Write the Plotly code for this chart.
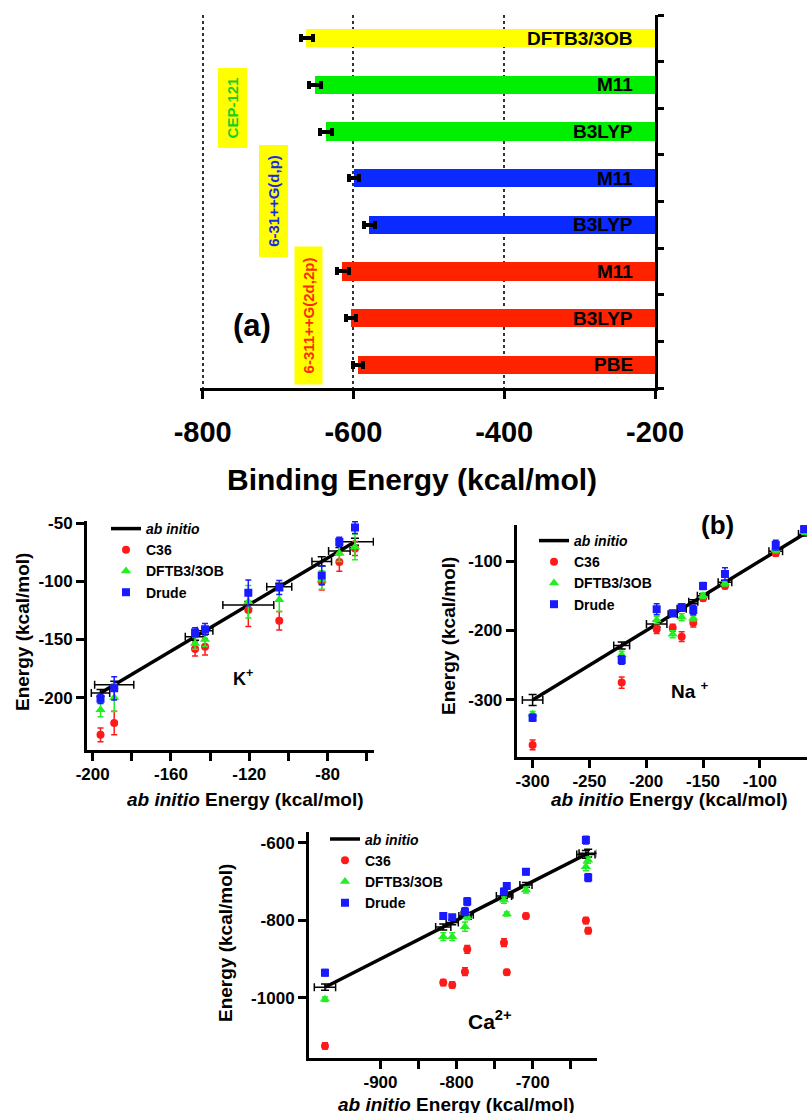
import plotly.graph_objects as go

W, H = 807, 1113
FONT = "Liberation Sans, Arial, sans-serif"

# ---------------- Panel (a) data ----------------
bar_methods = ["DFTB3/3OB", "M11", "B3LYP", "M11", "B3LYP", "M11", "B3LYP", "PBE"]
bar_values = [-662, -651, -636, -599, -579, -614, -603, -594]
bar_errors = [8, 8, 8, 7, 7, 8, 7, 7]
bar_colors = ["#ffff00", "#00ee00", "#00ee00", "#0a2aff", "#0a2aff",
              "#ff2200", "#ff2200", "#ff2200"]
a_tickvals = [-800, -600, -400, -200]
basis_labels = ["CEP-121", "6-31++G(d,p)", "6-311++G(2d,2p)"]
basis_colors = ["#22cc22", "#1a2ae8", "#ff2a00"]

# ---------------- K+ data ----------------
k_ab = [-196, -189, -147.7, -142.6, -120.5, -104.7, -83, -74, -66]
k_abx_err = [4.7, 10, 5, 4, 13, 6.4, 5, 5.5, 9.4]
k_aby_err = [3, 3, 3, 3, 3, 3, 4, 3, 3]
k_c36 = [-232, -221.8, -158.2, -156.3, -124.8, -134, -100.5, -83.4, -71.9]
k_c36_err = [6, 10, 6, 7, 14, 8, 7, 8, 6]
k_dftb = [-210.5, -200, -153.4, -150, -117.7, -116, -99, -76, -70.5]
k_dftb_err = [6, 12, 5, 6, 14, 10, 8, 7, 11]
k_drude = [-201, -192, -144, -141.3, -110, -105.3, -95, -66.2, -53.9]
k_drude_err = [4, 10, 4, 5, 11, 6, 8, 4, 5]
k_xticks = [-200, -180, -160, -140, -120, -100, -80, -60]
k_xtext = ["-200", "", "-160", "", "-120", "", "-80", ""]
k_yticks = [-200, -150, -100, -50]

# ---------------- Na+ data ----------------
n_ab = [-300, -221.6, -190.8, -176.7, -168.8, -158.6, -150, -130.7, -86, -61]
n_abx_err = [9, 7, 9, 4, 4, 4, 5, 6, 6, 5]
n_aby_err = [8, 5, 4, 3, 3, 3, 3, 3, 3, 3]
n_c36 = [-364.7, -275, -198.3, -196, -208.9, -188.8, -153.7, -136, -89, -52]
n_c36_err = [7, 8, 6, 5, 7, 6, 4, 4, 4, 4]
n_dftb = [-320.6, -235, -185, -205.5, -181, -182.4, -150, -132, -84, -58]
n_dftb_err = [4, 5, 5, 5, 5, 4, 4, 4, 4, 4]
n_drude = [-325.5, -242.4, -169.5, -175.2, -166.6, -170.5, -136, -118.7, -77, -54.4]
n_drude_err = [5, 6, 8, 4, 5, 7, 5, 9, 7, 4]
n_xticks = [-300, -250, -200, -150, -100]
n_yticks = [-300, -200, -100]

# ---------------- Ca2+ data ----------------
c_ab = [-973, -817.5, -805.7, -789, -786, -737.7, -734, -708.8, -630, -627]
c_abx_err = [14, 10, 8, 8, 8, 10, 8, 8, 12, 12]
c_aby_err = [8, 8, 6, 6, 6, 6, 6, 6, 10, 10]
c_c36 = [-1124.6, -961, -967, -933, -875, -858, -934.5, -789, -801, -827]
c_c36_err = [8, 8, 8, 10, 10, 10, 7, 7, 8, 8]
c_dftb = [-1004, -842.5, -842.5, -816.8, -791, -748, -784, -722, -662, -645]
c_dftb_err = [6, 10, 10, 12, 8, 8, 5, 8, 10, 8]
c_drude = [-935.5, -789, -792.6, -778, -752, -726, -711.7, -674.8, -593, -690]
c_drude_err = [8, 8, 5, 10, 10, 8, 8, 8, 10, 10]
c_xticks = [-900, -850, -800, -750, -700, -650]
c_xtext = ["-900", "", "-800", "", "-700", ""]
c_yticks = [-1000, -800, -600]


def px(x):
    return x / W


def py(y):
    return 1 - y / H


def labels(vals):
    return [str(v) for v in vals]


fig = go.Figure()

# ---------------- Panel (a) ----------------
fig.add_trace(go.Bar(
    orientation="h", x=bar_values, y=list(range(len(bar_values))),
    width=0.39, marker=dict(color=bar_colors, line=dict(width=0)),
    error_x=dict(type="data", array=bar_errors, color="black", thickness=4, width=4),
    showlegend=False, xaxis="x", yaxis="y",
))

annotations = []
for i, m in enumerate(bar_methods):
    annotations.append(dict(
        x=-200, y=i, xref="x", yref="y", text=m, showarrow=False,
        xanchor="right", yanchor="middle", xshift=-20,
        font=dict(family=FONT, size=19, color="black", weight="bold"),
    ))


def note(x, y, text, size, angle=0, **kw):
    d = dict(x=px(x), y=py(y), xref="paper", yref="paper", text=text,
             showarrow=False, xanchor="center", yanchor="middle", textangle=angle,
             font=dict(family=FONT, size=size, color=kw.pop("color", "black"),
                       weight="bold"))
    d.update(kw)
    annotations.append(d)


# basis-set labels (rotated, yellow boxes)
boxes = [(233, 108.5, 79, 28), (273, 201.5, 111, 28), (308.5, 315.5, 137, 27)]
for (cx, cy, bw, bh), lab, col in zip(boxes, basis_labels, basis_colors):
    note(cx, cy, lab, 15, angle=-90, color=col, bgcolor="#ffff00",
         width=bw, height=bh, borderpad=0, align="center", valign="middle")

note(252, 325, "(a)", 31)
note(412, 480, "Binding Energy (kcal/mol)", 30)


# ---------------- Lower panels ----------------
def add_panel(xa, ya, leg, ab, abx_err, aby_err, c36, c36_err, dftb, dftb_err, drude, drude_err):
    fig.add_trace(go.Scatter(
        x=ab, y=ab, mode="lines", name="<i>ab initio</i>",
        line=dict(color="black", width=3.5),
        error_x=dict(type="data", array=abx_err, color="black", thickness=1.5, width=4),
        error_y=dict(type="data", array=aby_err, color="black", thickness=1.5, width=4),
        xaxis=xa, yaxis=ya, legend=leg,
    ))
    for name, vals, errs, color, sym, size in [
        ("C36", c36, c36_err, "#ff1a1a", "circle", 8),
        ("DFTB3/3OB", dftb, dftb_err, "#22ee22", "triangle-up", 9),
        ("Drude", drude, drude_err, "#1a1aff", "square", 8),
    ]:
        fig.add_trace(go.Scatter(
            x=ab, y=vals, mode="markers", name=name,
            marker=dict(color=color, symbol=sym, size=size, line=dict(width=0)),
            error_y=dict(type="data", array=errs, color=color, thickness=1.5, width=3),
            xaxis=xa, yaxis=ya, legend=leg,
        ))


add_panel("x2", "y2", "legend", k_ab, k_abx_err, k_aby_err, k_c36, k_c36_err,
          k_dftb, k_dftb_err, k_drude, k_drude_err)
add_panel("x3", "y3", "legend2", n_ab, n_abx_err, n_aby_err, n_c36, n_c36_err,
          n_dftb, n_dftb_err, n_drude, n_drude_err)
add_panel("x4", "y4", "legend3", c_ab, c_abx_err, c_aby_err, c_c36, c_c36_err,
          c_dftb, c_dftb_err, c_drude, c_drude_err)

tickfont = dict(family=FONT, size=17, color="black", weight="bold")
axis_common = dict(showline=True, linewidth=3, linecolor="black", ticks="outside",
                   ticklen=8, tickwidth=3, tickcolor="black", showgrid=False,
                   zeroline=False, tickfont=tickfont, automargin=False)

for (xc, yc) in [(245, 799), (669, 799), (456, 1104)]:
    note(xc, yc, "<i>ab initio</i> Energy (kcal/mol)", 19)
for (xc, yc) in [(22, 632), (448, 636), (225, 943)]:
    note(xc, yc, "Energy (kcal/mol)", 19, angle=-90)

note(243, 677, "K<sup>+</sup>", 18)
note(690, 690, "Na <sup>+</sup>", 19)
note(490, 1020, "Ca<sup>2+</sup>", 21)
note(717, 525, "(b)", 26)

legend_common = dict(xanchor="left", yanchor="top", bgcolor="rgba(0,0,0,0)",
                     font=dict(family=FONT, size=14, color="black", weight="bold"),
                     tracegroupgap=0, itemwidth=30, borderwidth=0)

fig.update_layout(
    width=W, height=H, margin=dict(l=0, r=0, t=0, b=0, pad=0, autoexpand=False),
    paper_bgcolor="white", plot_bgcolor="rgba(0,0,0,0)",
    bargap=0, showlegend=True,
    xaxis=dict(domain=[px(200.4), px(655)], range=[-803, -200], anchor="y",
               tickvals=a_tickvals, ticktext=labels(a_tickvals),
               showline=True, linewidth=3, linecolor="black",
               ticks="outside", ticklen=8, tickwidth=3, tickcolor="black",
               showgrid=True, griddash="dot", gridcolor="#333", gridwidth=1.5,
               zeroline=False, ticklabelstandoff=8, automargin=False,
               tickfont=dict(family=FONT, size=29, color="black", weight="bold")),
    yaxis=dict(domain=[py(388), py(15)], range=[7.5, -0.5], anchor="x", side="right",
               tickvals=[i - 0.5 for i in range(9)], showticklabels=False,
               showline=True, linewidth=3, linecolor="black", ticks="outside",
               ticklen=6, tickwidth=3, tickcolor="black", showgrid=False,
               zeroline=False, automargin=False),
    xaxis2=dict(domain=[px(87), px(374)], range=[-202.9, -56.3], anchor="y2",
                tickvals=k_xticks, ticktext=k_xtext, ticklabelstandoff=-1, **axis_common),
    yaxis2=dict(domain=[py(750), py(520.7)], range=[-245, -48], anchor="x2",
                tickvals=k_yticks, ticktext=labels(k_yticks), **axis_common),
    xaxis3=dict(domain=[px(516.7), 1.0], range=[-314, -58.5], anchor="y3",
                tickvals=n_xticks, ticktext=labels(n_xticks), ticklabelstandoff=-1,
                **axis_common),
    yaxis3=dict(domain=[py(756.7), py(525)], range=[-381.6, -48.2], anchor="x3",
                tickvals=n_yticks, ticktext=labels(n_yticks), **axis_common),
    xaxis4=dict(domain=[px(309), px(596.7)], range=[-994, -615.8], anchor="y4",
                tickvals=c_xticks, ticktext=c_xtext, ticklabelstandoff=-1, **axis_common),
    yaxis4=dict(domain=[py(1057.7), py(832.3)], range=[-1155, -573], anchor="x4",
                tickvals=c_yticks, ticktext=labels(c_yticks), **axis_common),
    legend=dict(x=px(106), y=py(513), **legend_common),
    legend2=dict(x=px(534), y=py(525), **legend_common),
    legend3=dict(x=px(325), y=py(823.5), **legend_common),
    annotations=annotations,
)

fig.write_html("out.html")
